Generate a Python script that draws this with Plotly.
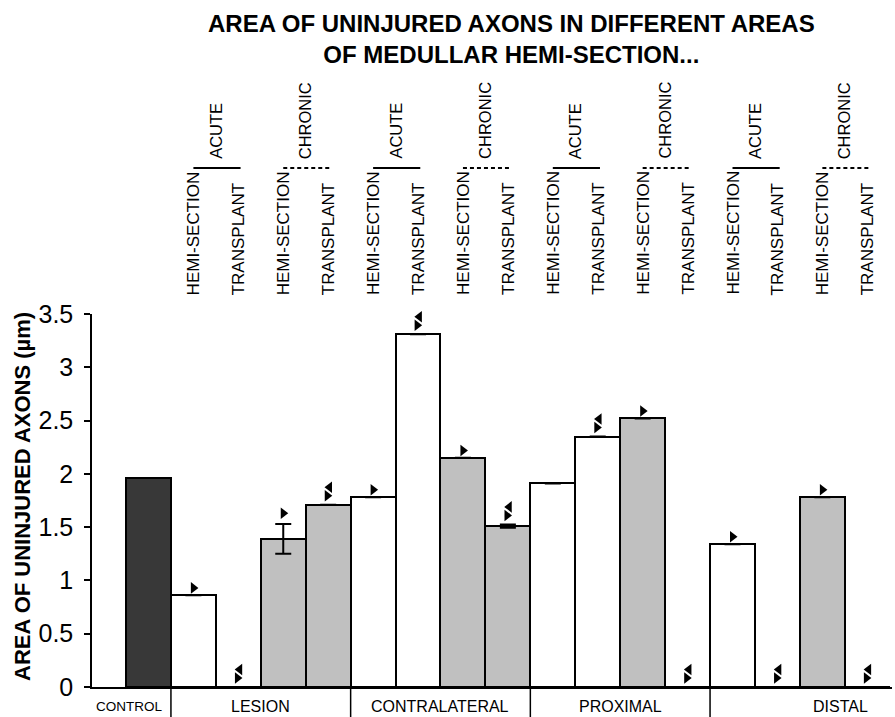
import plotly.graph_objects as go

# ---------------- data ----------------
groups = ["CONTROL", "LESION", "CONTRALATERAL", "PROXIMAL", "DISTAL"]
row_labels = ["HEMI-SECTION", "TRANSPLANT"]
phase_labels = ["ACUTE", "CHRONIC"]

values = [1.96,
          0.86, 0.00, 1.39, 1.71,
          1.78, 3.31, 2.15, 1.51,
          1.91, 2.35, 2.52, 0.00,
          1.34, 0.00, 1.78, 0.00]
errors = [0,
          0, 0, 0.14, 0,
          0, 0, 0, 0.015,
          0, 0, 0, 0,
          0, 0, 0, 0]
# condition of each bar: control / acute / chronic
condition = ["control",
             "acute", "acute", "chronic", "chronic",
             "acute", "acute", "chronic", "chronic",
             "acute", "acute", "chronic", "chronic",
             "acute", "acute", "chronic", "chronic"]
# significance markers: "" none, "s" single, "d" double
signif = ["",
          "s", "d", "s", "d",
          "s", "d", "s", "d",
          "", "d", "s", "d",
          "s", "d", "s", "d"]

# ---------------- styles ----------------
FONT = "Liberation Sans, Arial, sans-serif"
fill = {"control": "#383838", "acute": "#ffffff", "chronic": "#c0c0c0"}
W, H = 895, 717
ML, MR, MT, MB = 92, 3, 314, 30
plot_h = H - MT - MB
def py(pix):  # pixel row -> paper y
    return (H - MB - pix) / plot_h
def px(pix):
    return (pix - ML) / (W - ML - MR)

xs = list(range(len(values)))

fig = go.Figure()
fig.add_trace(go.Bar(
    x=xs, y=values, width=1.0,
    marker=dict(color=[fill[c] for c in condition],
                line=dict(color="black", width=2)),
    error_y=dict(type="data", array=errors, visible=True,
                 color="black", thickness=2, width=8),
    showlegend=False, hoverinfo="skip"))

# significance markers
single_x, single_y = [], []
dl_x, dl_y, dr_x, dr_y = [], [], [], []
for i, (v, e, s) in enumerate(zip(values, errors, signif)):
    top = v + e
    if s == "s":
        single_x.append(i)
        single_y.append(top + (0.1 if e > 0.05 else 0.07))
    elif s == "d":
        dr_x.append(i - 0.02)
        dr_y.append(top + 0.085)
        dl_x.append(i + 0.03)
        dl_y.append(top + 0.165)
fig.add_trace(go.Scatter(x=single_x + dr_x, y=single_y + dr_y, mode="markers",
                         marker=dict(symbol="triangle-right", size=10, color="black"),
                         showlegend=False, hoverinfo="skip", cliponaxis=False))
fig.add_trace(go.Scatter(x=dl_x, y=dl_y, mode="markers",
                         marker=dict(symbol="triangle-left", size=10, color="black"),
                         showlegend=False, hoverinfo="skip", cliponaxis=False))

ann = []
shapes = []
# header: rotated row labels
for i in range(1, len(values)):
    ann.append(dict(x=i, xref="x", y=py(297), yref="paper",
                    text=row_labels[(i - 1) % 2], textangle=-90,
                    xanchor="center", yanchor="bottom", showarrow=False,
                    font=dict(family=FONT, size=17, color="black")))
# phase labels and brackets
for g in range(4):
    for p in range(2):
        a = 1 + g * 4 + p * 2
        b = a + 1
        ann.append(dict(x=(a + b) / 2, xref="x", y=py(161), yref="paper",
                        text=phase_labels[p], textangle=-90,
                        xanchor="center", yanchor="bottom", showarrow=False,
                        font=dict(family=FONT, size=16.5, color="black")))
        dash = "solid" if p == 0 else "4px,3px"
        shapes.append(dict(type="line", xref="x", yref="paper",
                           x0=a + 0.0, x1=b + 0.05, y0=py(168), y1=py(168),
                           line=dict(color="black", width=2, dash=dash)))

# group labels under axis
group_x = [-0.43, 2.5, 6.5, 10.5, 15.4]
group_size = [13.5, 16, 16, 16, 16]
for gname, gx, gs in zip(groups, group_x, group_size):
    ann.append(dict(x=gx, xref="x", y=py(706), yref="paper", text=gname,
                    xanchor="center", yanchor="middle", showarrow=False,
                    font=dict(family=FONT, size=gs, color="black")))
for d in [0.5, 4.5, 8.5, 12.5]:
    shapes.append(dict(type="line", xref="x", yref="paper", x0=d, x1=d,
                       y0=0, y1=py(720), line=dict(color="black", width=1.5)))

# title
ann.append(dict(x=px(511.5), xref="paper", y=py(38.5), yref="paper",
                text="<b>AREA OF UNINJURED AXONS IN DIFFERENT AREAS<br>OF MEDULLAR HEMI-SECTION...</b>",
                xanchor="center", yanchor="middle", showarrow=False,
                font=dict(family=FONT, size=24, color="black")))
# y title
ann.append(dict(x=px(22), xref="paper", y=py(497), yref="paper",
                text="<b>AREA OF UNINJURED AXONS (µm)</b>", textangle=-90,
                xanchor="center", yanchor="middle", showarrow=False,
                font=dict(family=FONT, size=22, color="black")))

fig.update_layout(
    width=W, height=H,
    margin=dict(l=ML, r=MR, t=MT, b=MB, autoexpand=False),
    paper_bgcolor="white", plot_bgcolor="white",
    bargap=0,
    annotations=ann, shapes=shapes,
    xaxis=dict(range=[-1.257, 16.55], showticklabels=False, ticks="",
               showgrid=False, zeroline=False, showline=True,
               linecolor="black", linewidth=1.5),
    yaxis=dict(range=[0, 3.5], tickvals=[0, 0.5, 1, 1.5, 2, 2.5, 3, 3.5],
               ticktext=["0", "0.5", "1", "1.5", "2", "2.5", "3", "3.5"],
               ticks="outside", ticklen=6, tickwidth=1.5, tickcolor="black",
               ticklabelstandoff=6,
               showgrid=False, zeroline=False, showline=True,
               linecolor="black", linewidth=1.5,
               tickfont=dict(family=FONT, size=25, color="black")),
)

fig.write_html("out.html",
               config={"displayModeBar": False},
               post_script="document.body.style.margin='0px';document.body.style.overflow='hidden';")
